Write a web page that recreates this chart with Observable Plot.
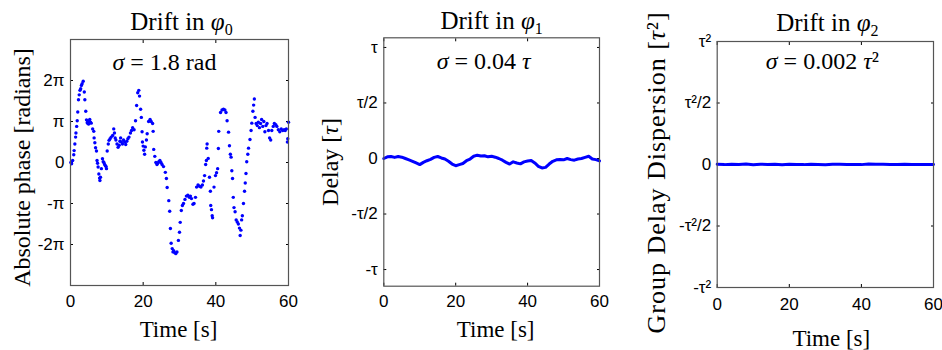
<!DOCTYPE html>
<html><head><meta charset="utf-8">
<script src="https://cdn.jsdelivr.net/npm/d3@7"></script>
<script src="https://cdn.jsdelivr.net/npm/@observablehq/plot@0.6"></script>
<style>
body{margin:0;background:#fff;}
#wrap{position:relative;width:942px;height:350px;overflow:hidden;background:#fff;}
#wrap svg{position:absolute;top:0;overflow:visible;}
</style></head><body><div id="wrap"></div>
<script>
// ---- Panel 1: absolute phase drift (values in units of π) ----
const phaseTime = [0.1,0.3,0.6,0.9,1.0,1.2,1.4,1.5,1.7,1.85,2.0,2.2,2.4,2.6,2.8,3.0,3.2,3.5,3.8,3.95,4.2,4.4,4.6,4.7,4.8,4.9,5.0,5.1,5.2,5.3,5.5,5.7,6.1,6.4,6.5,6.7,6.9,7.15,7.3,7.45,7.6,7.8,8.0,8.1,8.25,8.5,8.8,9.0,9.2,9.4,9.6,9.8,9.9,10.1,10.4,10.6,10.9,11.2,11.6,11.9,12.1,12.3,12.5,12.8,13.1,13.4,13.6,13.8,14.0,14.3,14.6,14.9,15.2,15.5,15.8,16.1,16.5,16.8,17.1,17.5,17.9,18.2,18.5,18.8,19.0,19.3,19.5,19.7,19.8,20.0,20.2,20.4,20.6,20.9,21.1,21.5,21.9,22.2,22.6,22.75,22.9,23.2,23.5,23.8,24.0,24.3,24.6,24.9,25.2,25.6,26.1,26.4,26.6,27.05,27.3,27.5,27.7,28.0,28.2,28.4,28.7,29.0,29.3,29.7,30.0,30.2,30.5,30.8,31.1,31.5,31.9,32.3,32.7,33.0,33.3,33.7,34.0,34.4,34.7,35.1,35.5,35.9,36.3,36.6,36.9,37.2,37.4,37.5,37.6,37.9,38.25,38.5,38.6,38.8,39.0,39.1,39.5,39.9,40.2,40.5,40.7,40.8,41.3,41.7,42.1,42.5,42.8,43.1,43.5,43.75,44.0,44.2,44.4,44.6,44.8,45.0,45.3,45.6,45.9,46.2,46.5,46.7,46.9,47.1,47.3,47.6,47.9,48.1,48.3,48.5,48.8,49.0,49.4,49.7,49.9,50.2,50.4,50.6,50.8,51.1,51.4,51.7,52.0,52.3,52.6,52.9,53.2,53.5,53.8,54.1,54.5,54.8,55.1,55.4,55.8,56.1,56.5,56.8,57.2,57.6,58.0,58.4,58.8,59.1,59.4,59.7,59.8,60.0];
const phaseValue = [0.0,-0.03,0.05,0.19,0.29,0.45,0.62,0.72,0.88,1.02,1.23,1.53,1.65,1.76,1.8,1.88,1.92,1.98,1.72,1.53,1.25,1.04,0.97,1.02,0.95,0.99,0.94,1.0,0.97,1.05,0.98,0.96,0.82,0.76,0.6,0.48,0.36,0.28,0.05,-0.02,-0.11,-0.28,-0.38,-0.44,-0.36,-0.15,0.09,0.02,0.0,-0.05,-0.08,-0.1,-0.15,0.28,0.45,0.54,0.58,0.62,0.66,0.82,0.72,0.6,0.55,0.45,0.37,0.42,0.52,0.6,0.5,0.45,0.55,0.5,0.44,0.52,0.58,0.62,0.72,0.78,0.85,0.8,1.02,1.39,1.7,1.76,1.62,1.3,1.1,0.75,0.5,0.4,0.3,0.2,0.38,0.55,0.7,1.0,1.05,1.0,0.95,0.76,0.32,0.15,0.0,-0.05,-0.02,0.02,0.05,0.0,-0.05,-0.1,-0.24,-0.39,-0.61,-0.93,-1.19,-1.61,-1.97,-2.1,-2.18,-2.15,-2.2,-2.22,-2.18,-1.9,-1.7,-1.46,-1.17,-1.05,-1.0,-0.9,-0.82,-0.8,-0.85,-0.82,-0.88,-1.02,-1.0,-0.85,-0.6,-0.55,-0.58,-0.6,-0.55,-0.45,-0.32,-0.05,0.05,0.35,0.45,0.1,-0.36,-0.7,-1.05,-1.15,-1.3,-1.35,-0.6,-0.32,-0.25,-0.15,0.34,0.76,1.22,1.28,1.3,1.28,1.22,1.02,0.74,0.41,0.2,0.13,-0.2,-0.39,-0.85,-1.1,-1.2,-1.4,-1.45,-1.5,-1.6,-1.78,-1.65,-1.4,-1.3,-1.0,-0.7,-0.5,-0.27,0.02,0.2,0.35,0.56,0.78,0.96,1.25,1.4,1.55,1.1,0.95,0.9,0.98,0.85,0.95,1.05,0.88,1.0,0.75,0.9,0.95,0.78,0.6,0.55,0.78,0.88,0.95,0.92,0.88,0.8,0.75,0.82,0.78,0.8,0.78,0.82,0.5,0.58,0.98];

// ---- Panel 2: delay drift (units of τ) ----
const delayTime = [0,1,2,3,4,5,6,7,8,9,10,11,12,13,14,15,16,17,18,19,20,21,22,23,24,25,26,27,28,29,30,31,32,33,34,35,36,37,38,39,40,41,42,43,44,45,46,47,48,49,50,51,52,53,54,55,56,57,58,59,60];
const delayValue = [0.0,0.015,0.018,0.01,0.018,0.012,0.0,-0.012,-0.025,-0.04,-0.055,-0.035,-0.02,-0.008,0.01,0.018,0.005,-0.005,-0.025,-0.05,-0.065,-0.055,-0.045,-0.02,-0.005,0.02,0.03,0.022,0.025,0.015,0.02,0.012,0.0,-0.015,-0.035,-0.05,-0.03,-0.04,-0.048,-0.03,-0.022,-0.018,-0.04,-0.07,-0.085,-0.08,-0.05,-0.025,-0.012,-0.01,-0.012,0.0,-0.01,-0.015,-0.005,0.0,0.01,0.02,-0.005,-0.01,-0.022];

// ---- Panel 3: group delay dispersion drift (units of τ²) ----
const gddTime = [0,2,4,6,8,10,12,14,16,18,20,22,24,26,28,30,32,34,36,38,40,42,44,46,48,50,52,54,56,58,60];
const gddValue = [0.002,-0.001,0.003,0.0,0.004,-0.002,0.002,0.001,0.003,-0.002,0.002,0.0,-0.001,0.003,0.001,-0.002,0.002,0.003,0.0,0.001,-0.001,0.004,0.002,0.003,0.001,-0.001,0.002,0.0,0.001,-0.001,0.0];

// ---- Ticks & labels ----
const timeTicks = [0,20,40,60];
const phaseTicks = [-2,-1,0,1,2];
const phaseTickLabels = ["-2π","-π","0","π","2π"];
const delayTicks = [-1,-0.5,0,0.5,1];
const delayTickLabels = ["-τ","-τ/2","0","τ/2","τ"];
const gddTicks = [-1,-0.5,0,0.5,1];
const gddTickLabels = ["-τ²","-τ²/2","0","τ²/2","τ²"];
const titles = ["Drift in φ0","Drift in φ1","Drift in φ2"];
const yAxisLabels = ["Absolute phase [radians]","Delay [τ]","Group Delay Dispersion [τ²]"];
const sigmaLabels = ["σ = 1.8 rad","σ = 0.04 τ","σ = 0.002 τ²"];
const xAxisLabel = "Time [s]";

const SERIF = "'Liberation Serif','Times New Roman',serif";
const BLUE = "#0000ff";

const phaseData = phaseTime.map((t,i)=>({t, v: phaseValue[i]}));
const delayData = delayTime.map((t,i)=>({t, v: delayValue[i]}));
const gddData = gddTime.map((t,i)=>({t, v: gddValue[i]}));

function panel(o) {
  const fmt = d => o.tickLabels[o.ticks.indexOf(d)];
  const svg = Plot.plot({
    width: o.width, height: 350,
    marginLeft: o.mL, marginRight: o.mR, marginTop: o.mT, marginBottom: o.mB,
    style: {fontFamily: "'Liberation Sans',Arial,sans-serif", fontSize: "17px", color: "#000", background: "transparent"},
    x: {domain: [0, 60]},
    y: {domain: o.yDomain},
    marks: [
      Plot.axisX(timeTicks, {anchor: "bottom", tickSize: -3, tickPadding: o.xPad, label: null, fontSize: 17}),
      Plot.axisX(timeTicks, {anchor: "top", tickSize: -3, tickFormat: () => "", label: null}),
      Plot.axisY(o.ticks, {anchor: "left", tickSize: -3, tickPadding: 9, tickFormat: fmt, label: null, fontSize: 17}),
      Plot.axisY(o.ticks, {anchor: "right", tickSize: -3, tickFormat: () => "", label: null}),
      ...o.marks,
      Plot.frame({stroke: "#555", strokeWidth: 1.2}),
      Plot.text([o.title], {text: d => d, frameAnchor: "top", dx: o.titleDx, dy: o.titleDy, lineAnchor: "bottom", fontFamily: SERIF, fontSize: 25}),
      Plot.text([o.sigma], {text: d => d, frameAnchor: "top", dx: o.sigmaDx, dy: o.sigmaDy, lineAnchor: "bottom", fontFamily: SERIF, fontSize: 24}),
      Plot.text([xAxisLabel], {text: d => d, frameAnchor: "bottom", dx: o.xLabDx, dy: o.xLabDy, lineAnchor: "bottom", fontFamily: SERIF, fontSize: 23}),
      Plot.text([o.yLabel], {text: d => d, frameAnchor: "left", textAnchor: "middle", rotate: -90, dx: o.yLabDx, dy: o.yLabDy, lineAnchor: "middle", fontFamily: SERIF, fontSize: o.yLabSize})
    ]
  });
  svg.style.left = o.left + "px";
  return svg;
}

const wrap = document.getElementById("wrap");
wrap.append(panel({
  left: 0, width: 310, mL: 70, mR: 22, mT: 39, mB: 65,
  yDomain: [-3, 3], ticks: phaseTicks, tickLabels: phaseTickLabels, xPad: 12,
  marks: [Plot.dot(phaseData, {x: "t", y: "v", r: 1.7, fill: BLUE, stroke: "none"})],
  title: titles[0], titleDx: 2, titleDy: -10,
  sigma: sigmaLabels[0], sigmaDx: -15, sigmaDy: 30,
  xLabDx: -1, xLabDy: 51,
  yLabel: yAxisLabels[0], yLabDx: -48, yLabDy: 5, yLabSize: 24
}));
wrap.append(panel({
  left: 310, width: 310, mL: 73.3, mR: 21, mT: 37.3, mB: 64.3,
  yDomain: [-1.15, 1.087], ticks: delayTicks, tickLabels: delayTickLabels, xPad: 12,
  marks: [Plot.line(delayData, {x: "t", y: "v", stroke: BLUE, strokeWidth: 3, curve: "linear"})],
  title: titles[1], titleDx: 0, titleDy: -9,
  sigma: sigmaLabels[1], sigmaDx: -8, sigmaDy: 31,
  xLabDx: 4, xLabDy: 51,
  yLabel: yAxisLabels[1], yLabDx: -53, yLabDy: 0, yLabSize: 24
}));
wrap.append(panel({
  left: 620, width: 322, mL: 96.7, mR: 9, mT: 41, mB: 63,
  yDomain: [-1, 1], ticks: gddTicks, tickLabels: gddTickLabels, xPad: 13,
  marks: [Plot.line(gddData, {x: "t", y: "v", stroke: BLUE, strokeWidth: 3, curve: "linear"})],
  title: titles[2], titleDx: 2, titleDy: -11,
  sigma: sigmaLabels[2], sigmaDx: -3, sigmaDy: 27,
  xLabDx: 6, xLabDy: 58,
  yLabel: yAxisLabels[2], yLabDx: -61, yLabDy: 8, yLabSize: 26
}));

// rich text: italics for Greek symbols, subscripts in titles
const rich = {
  "Drift in φ0": 'Drift in <tspan font-style="italic">φ</tspan><tspan font-size="16" dy="5">0</tspan>',
  "Drift in φ1": 'Drift in <tspan font-style="italic">φ</tspan><tspan font-size="16" dy="5">1</tspan>',
  "Drift in φ2": 'Drift in <tspan font-style="italic">φ</tspan><tspan font-size="16" dy="5">2</tspan>',
  "σ = 1.8 rad": '<tspan font-style="italic">σ</tspan> = 1.8 rad',
  "σ = 0.04 τ": '<tspan font-style="italic">σ</tspan> = 0.04 <tspan font-style="italic">τ</tspan>',
  "σ = 0.002 τ²": '<tspan font-style="italic">σ</tspan> = 0.002 <tspan font-style="italic">τ</tspan>²',
  "Delay [τ]": 'Delay [<tspan font-style="italic">τ</tspan>]',
  "Group Delay Dispersion [τ²]": 'Group Delay Dispersion [<tspan font-style="italic">τ</tspan>²]'
};
wrap.querySelectorAll("text").forEach(el => {
  const key = el.textContent;
  if (rich[key] === undefined) return;
  if (el.children.length === 0) el.innerHTML = rich[key];
  else {
    const ts = el.querySelector("tspan");
    if (ts) ts.innerHTML = rich[key];
  }
  if (key.startsWith("Group")) el.setAttribute("letter-spacing", "1");
});
</script></body></html>
